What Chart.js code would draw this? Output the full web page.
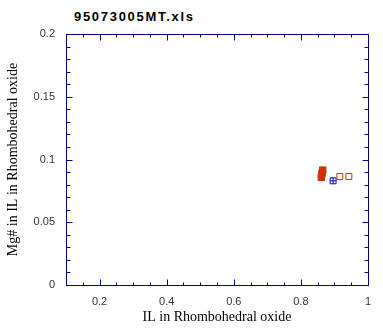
<!DOCTYPE html>
<html>
<head>
<meta charset="utf-8">
<script src="https://cdn.jsdelivr.net/npm/chart.js@4/dist/chart.umd.min.js"></script>
<style>
  html, body { margin: 0; padding: 0; background: #fff; }
  #wrap { position: relative; width: 383px; height: 333px; }
  #title {
    position: absolute; left: 74px; top: 9px;
    font: bold 13px "Liberation Sans", Arial, sans-serif;
    letter-spacing: 1.7px; color: #000;
  }
  canvas { position: absolute; left: 0; top: 0; }
</style>
</head>
<body>
<div id="wrap">
  <div id="title">95073005MT.xls</div>
  <canvas id="chart" width="383" height="333"></canvas>
</div>
<script>
// sample points (IL fraction vs Mg#)
const filledX = [0.865, 0.863, 0.861];
const filledY = [0.0915, 0.089, 0.0858];
const openX = [0.916, 0.943];
const openY = [0.0865, 0.0865];
const crossX = [0.896];
const crossY = [0.083];

const xTickVals = [0.2, 0.4, 0.6, 0.8, 1];
const yTickVals = [0, 0.05, 0.1, 0.15, 0.2];

const NAVY = '#000080';
const RUST = '#cc3300';
const BLUE = '#0000cc';
const NONE = 'rgba(0,0,0,0)';

const pts = (xs, ys) => xs.map((x, i) => ({ x, y: ys[i] }));

// box with inward tick marks on all four sides
const frameTicks = {
  id: 'frameTicks',
  afterDatasetsDraw(chart) {
    const { ctx, chartArea: a, scales: { x, y } } = chart;
    const L = Math.round(a.left) + 0.5, R = Math.round(a.right) + 0.5;
    const T = Math.round(a.top) + 0.5, B = Math.round(a.bottom) + 0.5;
    ctx.save();
    ctx.strokeStyle = NAVY;
    ctx.lineWidth = 1;
    ctx.strokeRect(L, T, R - L, B - T);
    ctx.beginPath();
    for (let i = 0; i <= 18; i++) {
      const v = +(0.1 + i * 0.05).toFixed(2);
      const len = xTickVals.includes(v) ? 6 : 3;
      const px = Math.round(x.getPixelForValue(v)) + 0.5;
      ctx.moveTo(px, B); ctx.lineTo(px, B - len);
      ctx.moveTo(px, T); ctx.lineTo(px, T + len);
    }
    for (let i = 0; i <= 20; i++) {
      const v = +(i * 0.01).toFixed(2);
      const len = yTickVals.includes(v) ? 6 : 4;
      const py = Math.round(y.getPixelForValue(v)) + 0.5;
      ctx.moveTo(L, py); ctx.lineTo(L + len, py);
      ctx.moveTo(R, py); ctx.lineTo(R - len, py);
    }
    ctx.stroke();
    ctx.restore();
  }
};

new Chart(document.getElementById('chart'), {
  type: 'scatter',
  data: {
    datasets: [
      {
        data: pts(filledX, filledY),
        pointStyle: 'rect',
        pointRadius: 4.6,
        backgroundColor: RUST,
        borderColor: RUST,
        borderWidth: 1
      },
      {
        data: pts(openX, openY),
        pointStyle: 'rect',
        pointRadius: 4.2,
        backgroundColor: NONE,
        borderColor: RUST,
        borderWidth: 1
      },
      {
        // plus sign inside the blue box
        data: pts(crossX, crossY),
        pointStyle: 'cross',
        pointRadius: 3,
        backgroundColor: NONE,
        borderColor: BLUE,
        borderWidth: 1
      },
      {
        data: pts(crossX, crossY),
        pointStyle: 'rect',
        pointRadius: 4.2,
        backgroundColor: NONE,
        borderColor: BLUE,
        borderWidth: 1
      }
    ]
  },
  options: {
    responsive: false,
    animation: false,
    devicePixelRatio: 1,
    layout: { padding: { top: 34, right: 15, left: 0, bottom: 0 } },
    plugins: {
      legend: { display: false },
      tooltip: { enabled: false }
    },
    scales: {
      x: {
        type: 'linear',
        min: 0.1,
        max: 1,
        grid: { display: false, drawTicks: false },
        border: { display: false },
        afterBuildTicks: s => { s.ticks = xTickVals.map(v => ({ value: v })); },
        afterFit: s => { s.height = 48; },
        ticks: {
          padding: 10,
          maxRotation: 0,
          autoSkip: false,
          color: '#333',
          font: { size: 11, family: 'Liberation Sans' },
          callback: v => String(v)
        },
        title: {
          display: true,
          text: 'IL in Rhombohedral oxide',
          color: '#000',
          font: { size: 14, family: 'Liberation Serif' },
          padding: { top: 0, bottom: 7 }
        }
      },
      y: {
        type: 'linear',
        min: 0,
        max: 0.2,
        grid: { display: false, drawTicks: false },
        border: { display: false },
        afterBuildTicks: s => { s.ticks = yTickVals.map(v => ({ value: v })); },
        afterFit: s => { s.width = 66; },
        ticks: {
          padding: 11,
          autoSkip: false,
          color: '#333',
          font: { size: 11, family: 'Liberation Sans' },
          callback: v => String(v)
        },
        title: {
          display: true,
          text: 'Mg# in IL in Rhombohedral oxide',
          color: '#000',
          font: { size: 14, family: 'Liberation Serif' },
          padding: { top: 5, bottom: 0 }
        }
      }
    }
  },
  plugins: [frameTicks]
});
</script>
</body>
</html>
